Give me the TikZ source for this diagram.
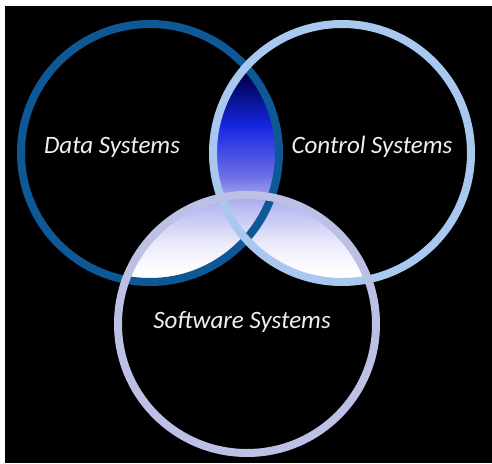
\documentclass[tikz,border=0pt]{standalone}
\usepackage{fontspec}
\setmainfont{Carlito}
\usepackage{tikz}
\definecolor{dataring}{RGB}{14,88,150}
\definecolor{controlring}{RGB}{168,200,240}
\definecolor{softwarering}{RGB}{188,192,228}
\definecolor{nametext}{RGB}{240,240,240}
\definecolor{lensA}{RGB}{0,0,36}
\definecolor{lensB}{RGB}{0,4,90}
\definecolor{lensC}{RGB}{22,40,228}
\definecolor{lensD}{RGB}{110,112,230}
\definecolor{lensE}{RGB}{178,180,240}
\definecolor{lensF}{RGB}{235,235,250}
\pgfdeclareverticalshading{lensfade}{100bp}{color(0bp)=(white); color(29bp)=(white);
  color(35bp)=(lensF); color(44bp)=(lensE); color(49.6bp)=(lensD);
  color(60.4bp)=(lensC); color(70.6bp)=(lensB); color(75bp)=(lensA); color(100bp)=(lensA)}
\tikzstyle{ring}=[
        line width=8pt
]
\tikzstyle{setname}=[
        text=nametext,
        font=\fontsize{25}{30}\selectfont\itshape
]

\begin{document}
\begin{tikzpicture}[x=1pt,y=-1pt]
    \useasboundingbox (0,0) rectangle (492,463);
    \fill[white] (0,0) rectangle (492,463);
    \fill[black] (5,6) rectangle (492,463);

    \coordinate (data) at (150,153);
    \coordinate (control) at (342,153);
    \coordinate (software) at (247,324);

    % overlaps
    \begin{scope}
        \clip (data) circle (129pt);
        \clip (control) circle (129pt);
        \shade[shading=lensfade] (100,60) rectangle (400,290);
    \end{scope}
    \begin{scope}
        \clip (data) circle (129pt);
        \clip (software) circle (129pt);
        \shade[shading=lensfade] (100,60) rectangle (400,290);
    \end{scope}
    \begin{scope}
        \clip (control) circle (129pt);
        \clip (software) circle (129pt);
        \shade[shading=lensfade] (100,60) rectangle (400,290);
    \end{scope}

    \draw[ring, draw=dataring] (data) circle (129pt);
    \draw[ring, draw=controlring] (control) circle (129pt);
    \draw[ring, draw=softwarering] (software) circle (129pt);

    \node[setname] (datasys) at (112,147) {Data Systems};
    \node[setname] (controlsys) at (372,147) {Control Systems};
    \node[setname] (softwaresys) at (242,322) {Software Systems};
\end{tikzpicture}
\end{document}
